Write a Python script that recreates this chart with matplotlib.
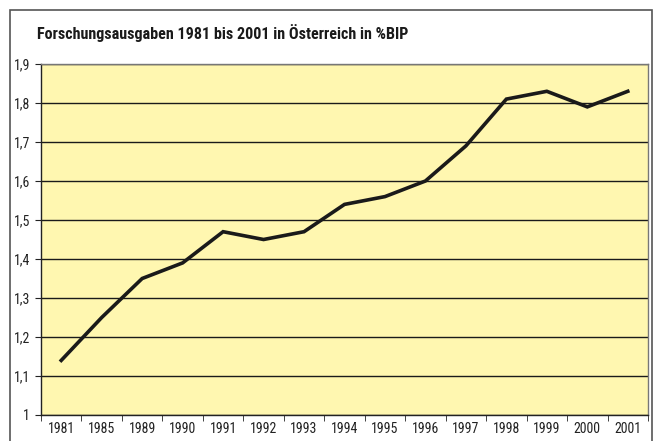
import numpy as np
import matplotlib.pyplot as plt
from matplotlib.patches import Rectangle

years = ['1981', '1985', '1989', '1990', '1991', '1992', '1993', '1994',
         '1995', '1996', '1997', '1998', '1999', '2000', '2001']
values = [1.14, 1.25, 1.35, 1.39, 1.47, 1.45, 1.47, 1.54,
          1.56, 1.60, 1.69, 1.81, 1.83, 1.79, 1.83]
yticks = [1.0, 1.1, 1.2, 1.3, 1.4, 1.5, 1.6, 1.7, 1.8, 1.9]
ylabels = ['1', '1,1', '1,2', '1,3', '1,4', '1,5', '1,6', '1,7', '1,8', '1,9']

font = ['Roboto Condensed', 'DejaVu Sans']

fig = plt.figure(figsize=(6.56, 4.41), dpi=100)
fig.patch.set_facecolor('white')

# outer frame
fig.add_artist(Rectangle((10 / 656, -0.05), 642 / 656, 1.05 - 10 / 441,
                         transform=fig.transFigure, fill=False,
                         edgecolor='#555555', linewidth=1.2))

ax = fig.add_axes([41 / 656, 1 - 415 / 441, 607 / 656, 351 / 441])
ax.set_facecolor('#fff7b0')

x = np.arange(len(years))
ax.plot(x, values, color='#1a1a1a', linewidth=2.6, solid_joinstyle='miter',
        zorder=3)

ax.set_xlim(-0.5, len(years) - 0.5)
ax.set_ylim(1.0, 1.9)
ax.set_yticks(yticks)
ax.set_yticklabels(ylabels, fontfamily=font, fontsize=10, color='#222222')
ax.set_xticks(x)
ax.set_xticklabels(years, fontfamily=font, fontsize=10, color='#222222')
ax.set_xticks(np.arange(len(years) + 1) - 0.5, minor=True)
ax.tick_params(axis='x', which='major', length=0, pad=5)
ax.tick_params(axis='x', which='minor', length=4, direction='out',
               color='#222222')
ax.tick_params(axis='y', length=4, direction='out', color='#222222', pad=4)

ax.grid(axis='y', color='#1a1a1a', linewidth=1.0, zorder=1)
ax.set_axisbelow(True)
for side in ['left', 'bottom']:
    ax.spines[side].set_color('#222222')
    ax.spines[side].set_linewidth(1.0)
for side in ['top', 'right']:
    ax.spines[side].set_color('#777777')
    ax.spines[side].set_linewidth(1.0)

fig.text(37 / 656, 1 - 33 / 441,
         'Forschungsausgaben 1981 bis 2001 in Österreich in %BIP',
         fontfamily=font, fontweight='bold', fontsize=11.6, color='#1a1a1a',
         va='center', ha='left')

fig.savefig('out.png', dpi=100)
